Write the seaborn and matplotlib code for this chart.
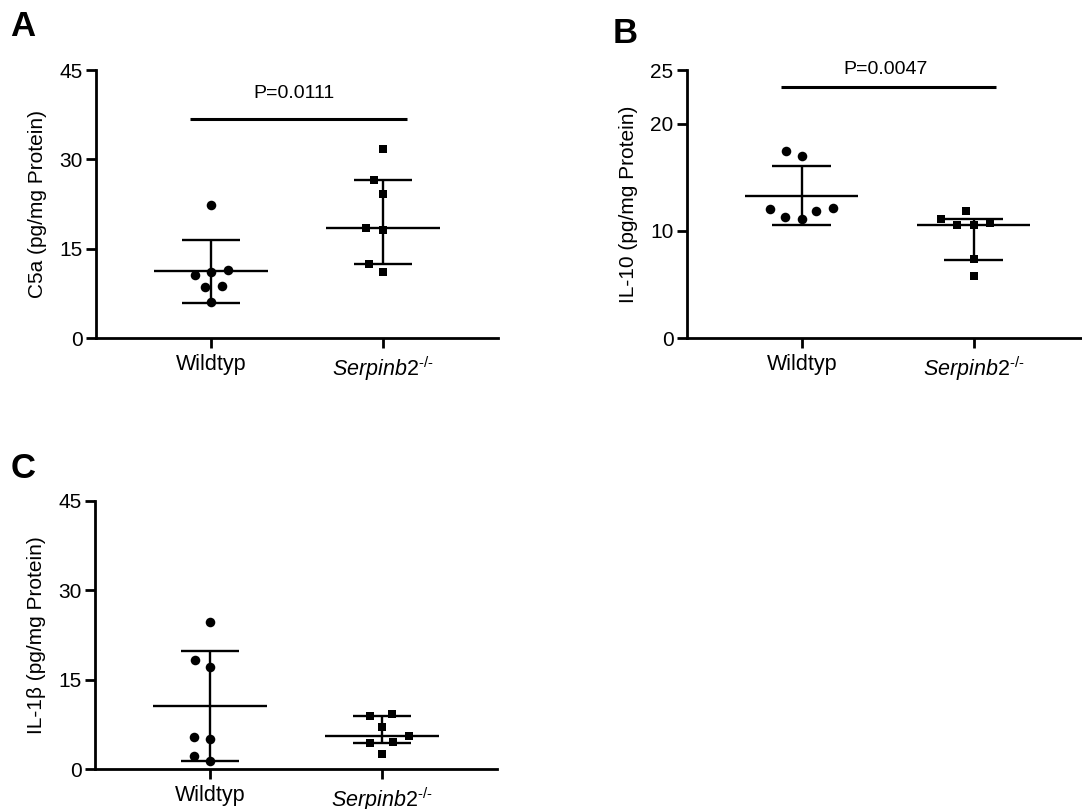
import numpy as np
import pandas as pd
import matplotlib
matplotlib.use("Agg")
import matplotlib.pyplot as plt
from matplotlib.path import Path
import seaborn as sns

# groups and tick labels
groups = ["Wildtyp", "Serpinb2"]
group_labels = ["Wildtyp", "$\\mathit{Serpinb2}^{\\mathit{\u2010/\u2010}}$"]

# single values (pg/mg protein)
c5a_wt = [22.3, 11.4, 10.6, 11.0, 8.5, 8.8, 6.0]
c5a_ko = [31.7, 26.5, 24.2, 18.1, 18.4, 12.5, 11.1]
il10_wt = [17.45, 17.0, 12.05, 11.86, 12.17, 11.15, 11.33]
il10_ko = [11.86, 11.1, 10.56, 10.56, 10.78, 7.36, 5.8]
il1b_wt = [24.7, 18.4, 17.2, 5.5, 5.0, 2.2, 1.4]
il1b_ko = [9.3, 8.9, 7.1, 5.6, 4.4, 4.6, 2.6]

# centre line and whisker ends as drawn (wildtyp, serpinb2)
c5a_center = [11.25, 18.4]
c5a_low = [5.9, 12.5]
c5a_high = [16.45, 26.5]
il10_center = [13.26, 10.53]
il10_low = [10.56, 7.3]
il10_high = [16.03, 11.1]
il1b_center = [10.67, 5.59]
il1b_low = [1.39, 4.36]
il1b_high = [19.9, 9.0]

p_c5a = "P=0.0111"
p_il10 = "P=0.0047"

sns.set_style("ticks")
plt.rcParams["font.family"] = ["Liberation Sans", "DejaVu Sans"]
plt.rcParams["mathtext.fontset"] = "custom"
plt.rcParams["mathtext.rm"] = "Liberation Sans"
plt.rcParams["mathtext.it"] = "Liberation Sans:italic"
for k in ["text.color", "axes.labelcolor", "xtick.color", "ytick.color", "axes.edgecolor"]:
    plt.rcParams[k] = "black"

W, H = 1082, 809
fig = plt.figure(figsize=(W / 100, H / 100), dpi=100)


# small visible marker inside a larger swarm footprint (GraphPad-like spacing)
def padded_marker(base):
    verts = np.vstack([base.vertices, [[1, 1], [-1, -1]]])
    codes = np.concatenate([base.codes, [Path.MOVETO, Path.MOVETO]])
    return Path(verts, codes)


dot = padded_marker(Path.circle((0, 0), 0.6))
sq = padded_marker(Path([(-0.56, -0.56), (0.56, -0.56), (0.56, 0.56), (-0.56, 0.56), (0, 0)],
                        [Path.MOVETO, Path.LINETO, Path.LINETO, Path.LINETO, Path.CLOSEPOLY]))


def box(left, top, right, bottom):
    return [left / W, 1 - bottom / H, (right - left) / W, (bottom - top) / H]


def panel(ax, wt, ko, center, low, high, ylabel, yticks, ymax):
    df = pd.DataFrame({"group": ["Wildtyp"] * len(wt) + ["Serpinb2"] * len(ko),
                       "value": wt + ko})
    sns.swarmplot(data=df[df.group == "Wildtyp"], x="group", y="value", order=groups,
                  color="black", size=11.5, marker=dot, linewidth=0, ax=ax, zorder=3, clip_on=False)
    sns.swarmplot(data=df[df.group == "Serpinb2"], x="group", y="value", order=groups,
                  color="black", size=11.5, marker=sq, linewidth=0, ax=ax, zorder=3, clip_on=False)
    pos = np.arange(len(groups))
    ax.hlines(center, pos - 0.33, pos + 0.33, color="black", lw=1.7, zorder=2)
    ax.hlines(low, pos - 0.17, pos + 0.17, color="black", lw=1.7, zorder=2)
    ax.hlines(high, pos - 0.17, pos + 0.17, color="black", lw=1.7, zorder=2)
    ax.vlines(pos, low, high, color="black", lw=1.7, zorder=2)

    ax.set_xlim(-0.669, 1.669)
    ax.set_ylim(0, ymax)
    ax.set_yticks(yticks)
    ax.set_xticks(pos)
    ax.set_xticklabels(group_labels)
    ax.set_xlabel("")
    ax.set_ylabel(ylabel, fontsize=15, labelpad=9)
    sns.despine(ax=ax)
    for s in ["left", "bottom"]:
        ax.spines[s].set_linewidth(2)
    ax.tick_params(axis="both", width=2, length=7.5)
    ax.tick_params(axis="y", labelsize=15, pad=2)
    ax.tick_params(axis="x", labelsize=15.5, pad=4)


axA = fig.add_axes(box(96, 70, 498, 338))
panel(axA, c5a_wt, c5a_ko, c5a_center, c5a_low, c5a_high,
      "C5a (pg/mg Protein)", [0, 15, 30, 45], 45)
axA.plot([-0.12, 1.14], [36.7, 36.7], color="black", lw=2.2, solid_capstyle="butt")
axA.text(0.48, 41.1, p_c5a, ha="center", va="center", fontsize=14)

axB = fig.add_axes(box(686.7, 70, 1088.7, 338.3))
panel(axB, il10_wt, il10_ko, il10_center, il10_low, il10_high,
      "IL-10 (pg/mg Protein)", [0, 10, 20, 25], 25)
axB.plot([-0.12, 1.13], [23.4, 23.4], color="black", lw=2.2, solid_capstyle="butt")
axB.text(0.49, 25.0, p_il10, ha="center", va="center", fontsize=14)

axC = fig.add_axes(box(95, 501, 497, 769.3))
panel(axC, il1b_wt, il1b_ko, il1b_center, il1b_low, il1b_high,
      "IL-1β (pg/mg Protein)", [0, 15, 30, 45], 45)

for letter, x, y in [("A", 10, 10), ("B", 613, 17), ("C", 11, 452)]:
    fig.text(x / W, 1 - y / H, letter, fontsize=25, fontweight="bold", ha="left", va="top")

fig.savefig("out.png", dpi=100)
